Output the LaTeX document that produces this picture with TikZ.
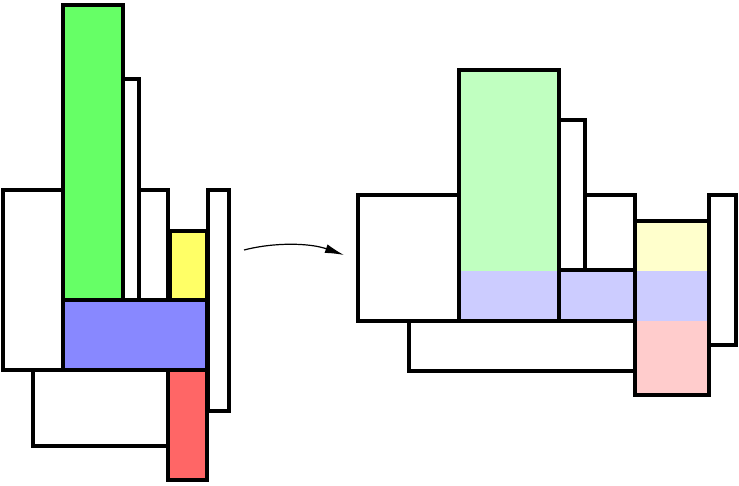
\documentclass[tikz,border=0pt]{standalone}
\usetikzlibrary{arrows.meta}
\definecolor{gA}{HTML}{66FF66}
\definecolor{yA}{HTML}{FFFF66}
\definecolor{bA}{HTML}{8888FF}
\definecolor{rA}{HTML}{FF6666}
\definecolor{gB}{HTML}{C0FFC0}
\definecolor{yB}{HTML}{FFFFCC}
\definecolor{bB}{HTML}{CCCCFF}
\definecolor{rB}{HTML}{FFCCCC}
\tikzset{
  box/.style={draw=black, line width=3.4pt, fill=white},
  conn/.style={line width=1.2pt, -{Latex[length=19pt,width=9pt]}}
}
\begin{document}
\begin{tikzpicture}[x=1pt,y=-1pt]
\useasboundingbox (0,0) rectangle (739,485);
% ---------- left figure ----------
\draw[box] (208,190) rectangle (229,411);
\draw[box] (3,190) rectangle (168,370);
\draw[box] (123,79) rectangle (139,300);
\draw[box, fill=gA] (63,5) rectangle (123,300);
\draw[box, fill=yA] (170,231) rectangle (207,300);
\draw[box, fill=bA] (63,300) rectangle (207,370);
\draw[box] (33,370) rectangle (168,446);
\draw[box, fill=rA] (168,370) rectangle (207,480);
% ---------- right figure ----------
\draw[box] (709,195) rectangle (736,345);
\draw[box] (358,195) rectangle (635,321);
\draw[box] (559,120) rectangle (585,270);
\fill[gB] (459,70) rectangle (559,271);
\fill[bB] (459,271) rectangle (559,321);
\draw[box, fill=none] (459,70) rectangle (559,321);
\draw[box, fill=bB] (559,270) rectangle (635,321);
\draw[box] (409,321) rectangle (635,371);
\fill[yB] (635,221) rectangle (709,271);
\fill[bB] (635,271) rectangle (709,321);
\fill[rB] (635,321) rectangle (709,395);
\draw[box, fill=none] (635,221) rectangle (709,395);
% ---------- arrow ----------
\coordinate (from) at (244,250);
\coordinate (to) at (344,255);
\draw[conn] (from) .. controls (275,242) and (310,243) .. (to);
\end{tikzpicture}
\end{document}
